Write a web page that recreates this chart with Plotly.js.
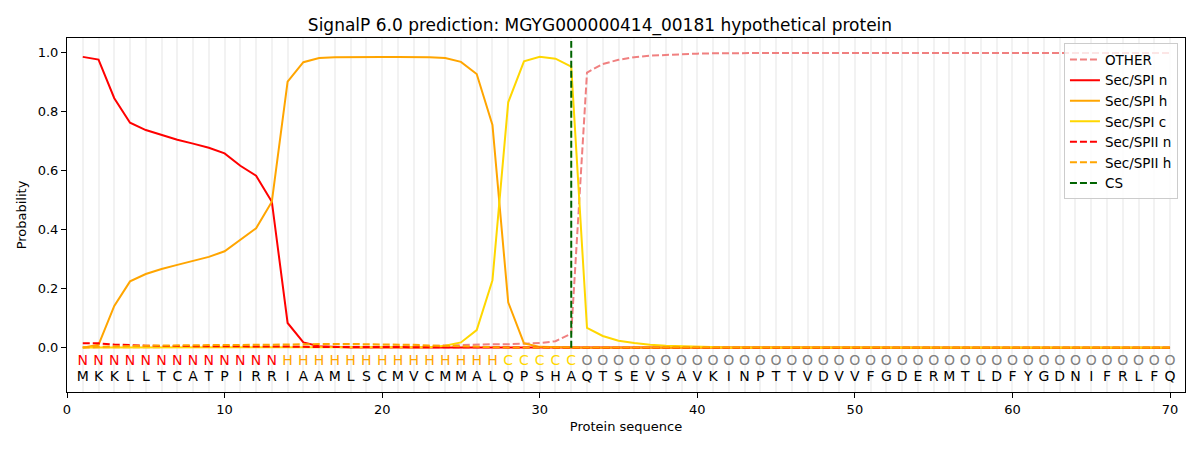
<!DOCTYPE html>
<html>
<head>
<meta charset="utf-8">
<script src="https://cdn.plot.ly/plotly-3.0.1.min.js"></script>
<style>
  html, body { margin: 0; padding: 0; background: #fff; }
  #chart { width: 1200px; height: 450px; }
</style>
</head>
<body>
<div id="chart"></div>
<script>
"use strict"
// 序列及每个位置的预测标签
let sequence = "MKKLLTCATPIRRIAAMLSCMVCMMALQPSHAQTSEVSAVKINPTTVDVVFGDERMTLDFYGDNIFRLFQ".split("");
let regionLabels = ("NNNNNNNNNNNNN" + "HHHHHHHHHHHHHH" + "CCCCC" + "O".repeat(38)).split("");
let csPos = 32;

let probOther = [0.001, 0.002, 0.002, 0.002, 0.002, 0.002, 0.002, 0.002, 0.002, 0.002,
    0.002, 0.002, 0.002, 0.002, 0.002, 0.002, 0.002, 0.002, 0.002, 0.002,
    0.003, 0.004, 0.006, 0.008, 0.010, 0.011, 0.012, 0.012, 0.013, 0.016,
    0.022, 0.048, 0.933, 0.962, 0.976, 0.985, 0.990, 0.993, 0.995, 0.997,
    0.998, 0.999, 0.999, 0.999, 0.999, 0.999, 0.999, 0.999, 0.999, 0.999,
    0.999, 0.999, 0.999, 0.999, 0.999, 0.999, 0.999, 0.999, 0.999, 0.999,
    0.999, 0.999, 0.999, 0.999, 0.999, 0.999, 0.999, 0.999, 0.999, 0.999];
let probSpiN = [0.986, 0.977, 0.846, 0.763, 0.738, 0.721, 0.705, 0.692, 0.678, 0.659,
    0.617, 0.583, 0.495, 0.084, 0.018, 0.005, 0.002, 0.001, 0.001, 0.001,
    0.001, 0.001, 0.001, 0.001, 0.001, 0.001, 0.001, 0.001, 0.000, 0.000,
    0, 0, 0, 0, 0, 0, 0, 0, 0, 0,
    0, 0, 0, 0, 0, 0, 0, 0, 0, 0,
    0, 0, 0, 0, 0, 0, 0, 0, 0, 0,
    0, 0, 0, 0, 0, 0, 0, 0, 0, 0];
let probSpiH = [0.000, 0.010, 0.142, 0.225, 0.250, 0.267, 0.281, 0.295, 0.308, 0.327,
    0.366, 0.405, 0.495, 0.902, 0.968, 0.982, 0.985, 0.986, 0.986, 0.986,
    0.986, 0.986, 0.985, 0.982, 0.969, 0.928, 0.755, 0.154, 0.015, 0.003,
    0.001, 0.001, 0, 0, 0, 0, 0, 0, 0, 0,
    0, 0, 0, 0, 0, 0, 0, 0, 0, 0,
    0, 0, 0, 0, 0, 0, 0, 0, 0, 0,
    0, 0, 0, 0, 0, 0, 0, 0, 0, 0];
let probSpiC = [0.001, 0.001, 0.001, 0.001, 0.001, 0.001, 0.001, 0.001, 0.001, 0.001,
    0.001, 0.001, 0.001, 0.001, 0.001, 0.001, 0.001, 0.001, 0.001, 0.001,
    0.001, 0.001, 0.002, 0.007, 0.018, 0.060, 0.229, 0.832, 0.971, 0.986,
    0.980, 0.953, 0.067, 0.040, 0.024, 0.016, 0.010, 0.007, 0.005, 0.003,
    0.002, 0.001, 0.001, 0.001, 0.001, 0.001, 0.001, 0.001, 0.001, 0.001,
    0.001, 0.001, 0.001, 0.001, 0.001, 0.001, 0.001, 0.001, 0.001, 0.001,
    0.001, 0.001, 0.001, 0.001, 0.001, 0.001, 0.001, 0.001, 0.001, 0.001];
let probSpiiN = [0.015, 0.015, 0.011, 0.008, 0.007, 0.006, 0.006, 0.005, 0.005, 0.005,
    0.004, 0.004, 0.004, 0.004, 0.003, 0.003, 0.003, 0.003, 0.003, 0.003,
    0.002, 0.002, 0.002, 0.002, 0.002, 0.001, 0.001, 0.001, 0.001, 0.001,
    0, 0, 0, 0, 0, 0, 0, 0, 0, 0,
    0, 0, 0, 0, 0, 0, 0, 0, 0, 0,
    0, 0, 0, 0, 0, 0, 0, 0, 0, 0,
    0, 0, 0, 0, 0, 0, 0, 0, 0, 0];
let probSpiiH = [0.002, 0.004, 0.005, 0.006, 0.007, 0.008, 0.008, 0.008, 0.009, 0.009,
    0.009, 0.010, 0.010, 0.011, 0.012, 0.013, 0.013, 0.013, 0.012, 0.012,
    0.011, 0.010, 0.008, 0.006, 0.004, 0.003, 0.002, 0.001, 0.001, 0.001,
    0, 0, 0, 0, 0, 0, 0, 0, 0, 0,
    0, 0, 0, 0, 0, 0, 0, 0, 0, 0,
    0, 0, 0, 0, 0, 0, 0, 0, 0, 0,
    0, 0, 0, 0, 0, 0, 0, 0, 0, 0];

let labelColors = { N: "#ff0000", H: "#ffa500", C: "#ffd700", O: "#808080" };
let font = "DejaVu Sans, sans-serif";

let pos = sequence.map((_, i) => i + 1);

function lineTrace(name, y, color, dash) {
    return {
        x: pos, y: y, name: name, type: "scatter", mode: "lines",
        line: { color: color, width: 2, dash: dash || "solid" },
        hoverinfo: "skip"
    };
}

let data = [
    lineTrace("OTHER", probOther, "#f08080", "7px,3px"),
    lineTrace("Sec/SPI n", probSpiN, "#ff0000"),
    lineTrace("Sec/SPI h", probSpiH, "#ffa500"),
    lineTrace("Sec/SPI c", probSpiC, "#ffd700"),
    lineTrace("Sec/SPII n", probSpiiN, "#ff0000", "7px,3px"),
    lineTrace("Sec/SPII h", probSpiiH, "#ffa500", "7px,3px"),
    {
        x: [csPos, csPos], y: [0, 1.04], name: "CS", type: "scatter", mode: "lines",
        line: { color: "#006400", width: 2, dash: "7px,3px" }, hoverinfo: "skip"
    },
    // 标签行
    {
        x: pos, y: pos.map(() => -0.047), type: "scatter", mode: "text",
        text: regionLabels, showlegend: false, hoverinfo: "skip",
        textfont: { family: font, size: 14, color: regionLabels.map(l => labelColors[l]) }
    },
    // 氨基酸行
    {
        x: pos, y: pos.map(() => -0.1), type: "scatter", mode: "text",
        text: sequence, showlegend: false, hoverinfo: "skip",
        textfont: { family: font, size: 14, color: "#000000" }
    }
];

let layout = {
    width: 1200,
    height: 450,
    margin: { l: 67, r: 15, t: 38, b: 58 },
    paper_bgcolor: "#ffffff",
    plot_bgcolor: "#ffffff",
    font: { family: font, size: 13, color: "#000000" },
    title: {
        text: "SignalP 6.0 prediction: MGYG000000414_00181 hypothetical protein",
        font: { family: font, size: 17 },
        x: 0.5, xanchor: "center", y: 0.945, yanchor: "middle"
    },
    xaxis: {
        range: [0, 70.95],
        tickmode: "linear", tick0: 0, dtick: 10,
        ticks: "outside", ticklen: 5, tickcolor: "#000",
        showline: true, mirror: true, linecolor: "#000", linewidth: 1,
        showgrid: true, gridcolor: "#f2f2f2", gridwidth: 2,
        minor: { dtick: 1, tick0: 0, showgrid: true, gridcolor: "#f2f2f2", gridwidth: 2, ticks: "" },
        zeroline: false,
        title: { text: "Protein sequence", font: { family: font, size: 13 }, standoff: 6 }
    },
    yaxis: {
        range: [-0.15, 1.05],
        tickmode: "linear", tick0: 0, dtick: 0.2, tickformat: ".1f",
        ticks: "outside", ticklen: 5, tickcolor: "#000",
        showline: true, mirror: true, linecolor: "#000", linewidth: 1,
        showgrid: false, zeroline: false,
        title: { text: "Probability", font: { family: font, size: 13 }, standoff: 8 }
    },
    legend: {
        x: 0.9937, xanchor: "right", y: 0.985, yanchor: "top",
        bgcolor: "rgba(255,255,255,0.8)", bordercolor: "#cccccc", borderwidth: 1,
        font: { family: font, size: 13.5 }
    },
    showlegend: true
};

Plotly.newPlot("chart", data, layout, { displayModeBar: false, staticPlot: true });
</script>
</body>
</html>
